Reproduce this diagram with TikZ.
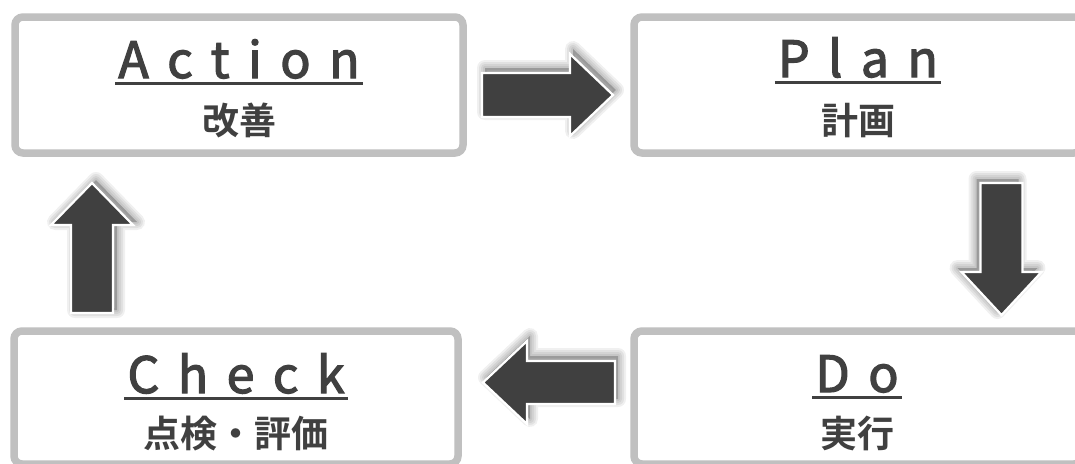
\documentclass[tikz,border=0pt]{standalone}
\usepackage{fontspec}
\setmainfont{Noto Sans CJK JP}[BoldFont={Noto Sans CJK JP Bold}]
\newfontfamily\titlefont{Noto Sans CJK JP}[LetterSpace=37,FakeBold=2.5]
\definecolor{txt}{HTML}{404040}
\definecolor{arrowc}{HTML}{404040}
\definecolor{boxc}{HTML}{C0C0C0}
\tikzset{
  box/.style={draw=boxc, line width=7.5pt, rounded corners=8pt, fill=white, inner sep=0pt},
  titletext/.style={text=txt, font=\titlefont\fontsize{50}{50}\selectfont, inner xsep=3pt, inner ysep=0pt, anchor=base},
  subtext/.style={text=txt, font=\bfseries\fontsize{37}{37}\selectfont, inner sep=0pt, anchor=base},
  uline/.style={draw=txt, line width=3pt},
  halo/.style={draw=black, fill=black, line join=round, opacity=0.06},
  arrowbody/.style={fill=arrowc, draw=white, line width=2.2pt, line join=miter},
}
\newcommand\shadowarrow[2]{%
  \foreach \w in {16,12,8,4}{\path[halo, line width=\w pt, shift={#1}] #2;}
  \path[arrowbody] #2;
}
\begin{document}
\begin{tikzpicture}[x=1pt, y=-1pt]
\useasboundingbox (0,0) rectangle (1075,463);
\clip (0,0) rectangle (1075,463);
\fill[white] (0,0) rectangle (1075,463);

% boxes
\node[box, minimum width=448pt, minimum height=136pt] (action) at (239,85) {};
\node[box, minimum width=448pt, minimum height=136pt] (plan) at (858,85) {};
\node[box, minimum width=444pt, minimum height=133pt] (check) at (236,397.5) {};
\node[box, minimum width=448pt, minimum height=133pt] (do) at (858,397.5) {};

% titles
\node[titletext] (actT) at (239,78) {Action};
\node[subtext] (actS) at (239,134) {改善};
\node[titletext] (planT) at (858,77) {Plan};
\node[subtext] (planS) at (858,134) {計画};
\node[titletext] (checkT) at (236,393) {Check};
\node[subtext] (checkS) at (236,447) {点検・評価};
\node[titletext] (doT) at (857,392) {Do};
\node[subtext] (doS) at (857,447) {実行};

\foreach \t in {actT,planT,checkT,doT}{
  \draw[uline] ([yshift=-5.5pt]\t.base west) -- ([yshift=-5.5pt]\t.base east);
}

% arrows
\shadowarrow{(3,-5)}{(482,73) -- (570,73) -- (570,54) -- (613,95) -- (570,136) -- (570,117) -- (482,117) -- cycle}
\shadowarrow{(-4,-4)}{(980.5,183) -- (1022.5,183) -- (1022.5,272) -- (1041.5,272) -- (1001.5,315) -- (961.5,272) -- (980.5,272) -- cycle}
\shadowarrow{(4,-3)}{(92,183) -- (133,225) -- (113,225) -- (113,313) -- (71,313) -- (71,225) -- (51,225) -- cycle}
\shadowarrow{(3,-5)}{(483,382.5) -- (527,341) -- (527,361) -- (615,361) -- (615,404) -- (527,404) -- (527,424) -- cycle}
\end{tikzpicture}
\end{document}
